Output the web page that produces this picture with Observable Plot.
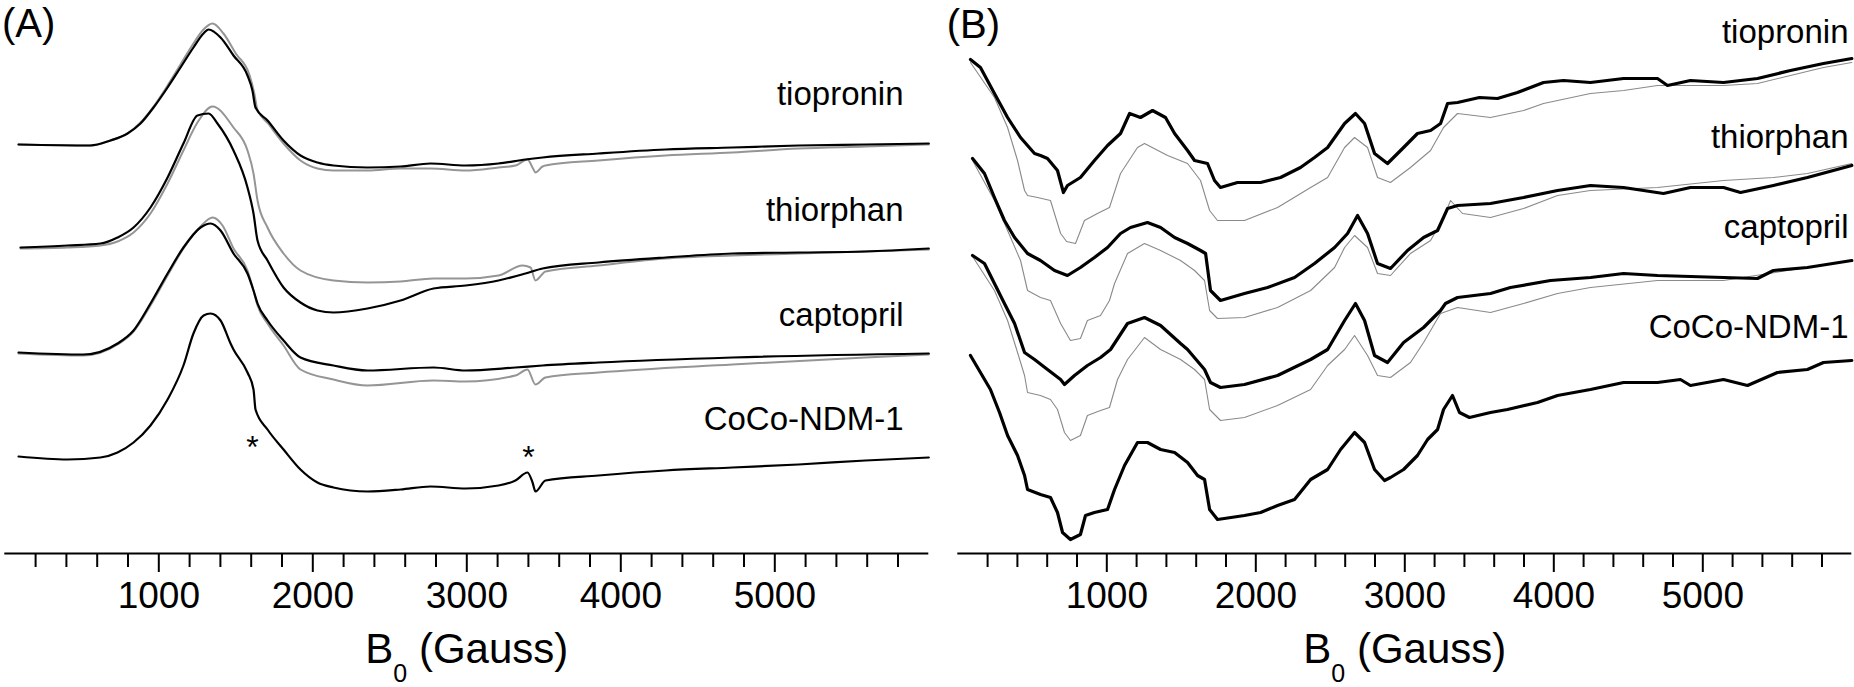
<!DOCTYPE html>
<html><head><meta charset="utf-8">
<script src="https://cdn.jsdelivr.net/npm/d3@7"></script>
<script src="https://cdn.jsdelivr.net/npm/@observablehq/plot@0.6"></script>
<style>
body{margin:0;background:#fff;}
#fig{display:flex;width:1854px;height:687px;overflow:hidden;}
svg{display:block;overflow:visible;}
</style></head><body><div id="fig"></div>
<script>
// ---------- shared ----------
const sampleNames = ["tiopronin", "thiorphan", "captopril", "CoCo-NDM-1"];
const fieldDomain = [0, 6000];            // B0 (Gauss)
const intensityDomain = [0, 553];         // stacked intensity (a.u.)
const majorTicks = [1000, 2000, 3000, 4000, 5000];
const tickLabels = ["1000", "2000", "3000", "4000", "5000"];
const minorTicks = [200,400,600,800,1200,1400,1600,1800,2200,2400,2600,2800,3200,3400,3600,3800,4200,4400,4600,4800,5200,5400,5600,5800];
const axisTitleParts = ["B", "0", " (Gauss)"];
const panelLetters = ["(A)", "(B)"];

// ---------- panel A : [field (G), stacked intensity] ----------
const A_tio_black = [[89,409],[556,408],[686,413],[797,420],[881,430],[966,446],[1057,466],[1141,486],[1225,506],[1290,520],[1323,524],[1401,516],[1485,498],[1576,478],[1608,463],[1628,446],[1706,433],[1810,413],[1920,398],[2030,391],[2134,388],[2355,386],[2570,387],[2764,390],[2992,388],[3206,390],[3381,394],[3492,396],[3855,400],[4290,404],[4725,406],[5154,408],[5589,409],[6000,410]];
const A_tio_gray = [[89,409],[556,408],[686,413],[797,420],[881,431],[966,447],[1057,468],[1141,489],[1225,510],[1290,524],[1349,530],[1420,520],[1500,500],[1590,478],[1620,460],[1640,444],[1710,430],[1810,410],[1920,393],[2030,385],[2134,383],[2355,383],[2570,385],[2764,385],[2992,383],[3206,386],[3316,388],[3394,394],[3430,385],[3446,381],[3492,387],[3511,388],[3855,393],[4290,398],[4725,401],[5154,405],[5589,407],[6000,409]];
const A_thi_black = [[102,306],[407,308],[621,310],[732,316],[836,326],[946,346],[1057,376],[1160,410],[1251,438],[1323,440],[1381,430],[1485,403],[1576,366],[1615,340],[1641,313],[1706,293],[1810,266],[1920,251],[2030,243],[2134,241],[2355,245],[2570,253],[2784,265],[2992,268],[3206,273],[3381,280],[3492,285],[3855,291],[4290,296],[4725,300],[5154,301],[5589,302],[6000,305]];
const A_thi_gray = [[102,305],[407,306],[621,308],[732,312],[836,321],[946,340],[1057,370],[1160,403],[1251,431],[1349,447],[1485,426],[1576,403],[1615,380],[1641,353],[1706,326],[1810,300],[1920,283],[2134,273],[2355,271],[2570,272],[2784,275],[2992,275],[3206,278],[3362,288],[3414,286],[3446,273],[3511,282],[3855,288],[4290,295],[4725,298],[5154,300],[6000,304]];
const A_cap_black = [[89,201],[511,199],[732,210],[836,223],[946,250],[1057,280],[1160,306],[1271,326],[1336,330],[1401,323],[1485,300],[1576,280],[1615,263],[1641,250],[1706,233],[1810,213],[1920,196],[2134,188],[2355,183],[2784,186],[2992,183],[3316,186],[3492,188],[3855,191],[4725,196],[6000,200]];
const A_cap_gray = [[89,200],[511,198],[732,209],[836,222],[946,248],[1057,278],[1160,305],[1271,327],[1349,336],[1414,328],[1485,305],[1576,283],[1615,263],[1641,248],[1706,230],[1810,208],[1920,184],[2134,174],[2355,168],[2784,173],[2992,172],[3316,178],[3394,184],[3446,169],[3511,176],[3855,181],[4725,189],[5589,196],[6000,199]];
const A_coco_black = [[89,97],[407,94],[621,96],[732,101],[836,111],[946,128],[1057,154],[1160,188],[1225,220],[1291,238],[1336,240],[1401,233],[1466,210],[1485,204],[1576,181],[1615,164],[1628,144],[1706,124],[1810,104],[1920,84],[2030,71],[2134,66],[2355,62],[2570,64],[2764,67],[2992,65],[3206,68],[3316,73],[3394,81],[3427,71],[3446,62],[3511,73],[3855,78],[4290,83],[4725,86],[5154,89],[5589,93],[6000,96]];
const A_labelX = [5836, 5836, 5836, 5836];
const A_labelY = [449, 333, 228, 124];
const A_asteriskX = [1608, 3401];
const A_asteriskY = [96, 86];

// ---------- panel B ----------
const B_tio_black = [[85,494],[152,486],[246,460],[334,436],[421,416],[515,400],[555,398],[602,395],[669,383],[709,361],[736,368],[823,376],[917,393],[1005,408],[1092,420],[1153,440],[1226,436],[1307,443],[1394,436],[1455,420],[1542,403],[1589,393],[1676,390],[1723,373],[1763,366],[1877,371],[2032,371],[2166,376],[2300,386],[2394,396],[2482,406],[2596,430],[2669,440],[2730,430],[2797,400],[2884,390],[2992,406],[3085,420],[3173,423],[3240,430],[3287,450],[3354,451],[3501,456],[3622,455],[3756,461],[3931,471],[4065,473],[4246,471],[4468,475],[4696,475],[4763,468],[4917,473],[5139,471],[5367,475],[5588,483],[5810,490],[6000,495]];
const B_tio_gray = [[85,491],[246,456],[334,426],[401,393],[448,363],[468,358],[535,356],[622,353],[690,320],[730,312],[790,310],[850,333],[937,340],[1018,346],[1092,380],[1206,406],[1253,410],[1408,398],[1542,390],[1629,373],[1690,343],[1743,333],[1924,333],[2146,346],[2368,366],[2482,376],[2596,406],[2663,416],[2750,406],[2817,376],[2904,371],[3038,386],[3173,403],[3260,426],[3354,440],[3575,436],[3797,443],[3931,450],[4246,460],[4468,463],[4696,468],[5139,468],[5367,470],[5588,478],[5810,486],[6000,491]];
const B_thi_black = [[99,395],[179,380],[246,356],[313,333],[381,316],[468,300],[555,293],[649,283],[736,278],[823,286],[917,296],[1005,306],[1092,320],[1159,326],[1273,331],[1361,326],[1455,316],[1542,310],[1629,303],[1663,300],[1696,263],[1763,253],[1924,260],[2079,266],[2260,276],[2394,290],[2529,306],[2616,320],[2683,338],[2750,320],[2817,290],[2904,285],[3018,303],[3126,316],[3220,323],[3287,345],[3354,348],[3575,350],[3797,356],[4025,363],[4246,368],[4468,366],[4736,360],[4917,366],[5139,366],[5253,361],[5474,368],[5702,376],[6000,388]];
const B_thi_gray = [[99,393],[246,353],[334,323],[421,293],[468,263],[555,256],[622,253],[690,230],[756,213],[823,215],[870,233],[958,238],[1018,253],[1052,270],[1139,300],[1253,310],[1361,303],[1495,293],[1589,283],[1656,273],[1690,243],[1743,235],[1924,236],[2146,246],[2368,263],[2529,286],[2596,306],[2663,318],[2750,306],[2817,280],[2904,278],[3038,300],[3173,313],[3260,336],[3307,353],[3387,340],[3575,336],[3797,345],[4025,358],[4246,363],[4696,366],[5139,373],[5474,376],[5702,380],[6000,390]];
const B_cap_black = [[99,298],[179,290],[246,270],[313,250],[381,230],[448,201],[515,194],[602,184],[690,174],[716,169],[783,178],[870,188],[958,196],[1025,204],[1139,230],[1253,236],[1361,228],[1495,210],[1542,204],[1656,184],[1696,171],[1763,166],[1924,169],[2146,178],[2368,194],[2482,204],[2596,233],[2669,250],[2730,233],[2797,198],[2884,191],[2992,211],[3126,226],[3240,243],[3273,250],[3354,256],[3575,260],[3709,266],[3978,273],[4246,276],[4468,280],[4696,278],[5139,276],[5367,275],[5474,283],[5702,286],[6000,293]];
const B_cap_gray = [[99,297],[246,263],[334,233],[401,201],[448,178],[468,161],[555,158],[622,154],[669,144],[716,121],[756,113],[823,118],[870,138],[958,143],[1018,146],[1072,174],[1139,194],[1253,216],[1361,204],[1495,194],[1589,184],[1656,174],[1690,144],[1763,133],[1924,136],[2146,148],[2368,164],[2482,188],[2596,204],[2663,218],[2750,198],[2817,178],[2904,176],[3038,191],[3126,211],[3240,240],[3354,246],[3575,241],[3797,250],[4025,260],[4246,266],[4696,273],[5139,273],[6000,293]];
const B_coco_black = [[85,198],[152,181],[219,164],[280,141],[334,118],[401,98],[448,78],[468,64],[555,59],[622,56],[669,41],[703,21],[756,14],[823,19],[857,38],[917,41],[1005,44],[1052,64],[1119,88],[1206,111],[1273,111],[1361,104],[1455,101],[1542,91],[1609,78],[1656,74],[1690,44],[1743,34],[1924,38],[2032,41],[2146,48],[2260,54],[2368,74],[2482,84],[2569,104],[2663,121],[2730,111],[2797,84],[2864,73],[2904,76],[2992,84],[3085,98],[3153,114],[3220,124],[3260,144],[3320,158],[3367,141],[3434,136],[3575,141],[3689,144],[3891,151],[4025,158],[4246,164],[4468,171],[4696,171],[4850,174],[4917,168],[5139,174],[5300,168],[5501,181],[5702,184],[5810,191],[6000,193]];
const B_labelX = [5978, 5978, 5978, 5978];
const B_labelY = [511, 406, 316, 216];

// ---------- build ----------
function rows(list) {
  return list.flatMap(([id, pts]) => pts.map(([g, v]) => ({id, g, v})));
}
const FONT = "'Liberation Sans', Arial, Helvetica, sans-serif";
const TITLE = axisTitleParts.join("");

function panel(o) {
  const svg = Plot.plot({
    width: o.width, height: 687,
    marginTop: 0, marginBottom: 134, marginLeft: o.marginLeft, marginRight: o.marginRight,
    x: {domain: fieldDomain},
    y: {domain: intensityDomain, axis: null},
    style: {fontFamily: FONT, fontSize: "33px", color: "#000", background: "transparent", overflow: "visible"},
    marks: [
      Plot.line(rows(o.gray), {x: "g", y: "v", z: "id", stroke: o.grayColor, strokeWidth: o.grayWidth, strokeLinejoin: "round", curve: o.curve}),
      Plot.line(rows(o.black), {x: "g", y: "v", z: "id", stroke: "#000", strokeWidth: o.blackWidth, strokeLinejoin: "round", curve: o.curve}),
      Plot.ruleY([intensityDomain[0]], {stroke: "#000", strokeWidth: 2.2}),
      Plot.axisX(minorTicks, {anchor: "bottom", tickSize: 14, strokeWidth: 2, tickFormat: () => "", label: null}),
      Plot.axisX(majorTicks, {anchor: "bottom", tickSize: 19, strokeWidth: 2, tickPadding: 9, fontSize: 37,
        tickFormat: d => tickLabels[majorTicks.indexOf(d)], label: null}),
      Plot.text(sampleNames, {x: (d, i) => o.labelX[i], y: (d, i) => o.labelY[i], text: d => d,
        textAnchor: "end", lineAnchor: "bottom", fontSize: 33}),
      ...(o.asteriskX ? [Plot.text(o.asteriskX, {x: d => d, y: (d, i) => o.asteriskY[i], text: () => "*",
        textAnchor: "middle", lineAnchor: "bottom", fontSize: 32})] : []),
      Plot.text([o.letter], {frameAnchor: "top-left", dx: o.letterDx, dy: o.letterDy, text: d => d,
        textAnchor: "start", lineAnchor: "bottom", fontSize: 40}),
      Plot.text([TITLE], {frameAnchor: "bottom", dy: 109, text: d => d,
        lineAnchor: "bottom", fontSize: 42})
    ]
  });
  // subscript for B0
  svg.querySelectorAll("text").forEach(t => {
    if (t.textContent === TITLE) {
      const s = d3.select(t);
      s.text(null);
      s.append("tspan").text(axisTitleParts[0]);
      s.append("tspan").attr("dy", 19).attr("font-size", 25).text(axisTitleParts[1]);
      s.append("tspan").attr("dy", -19).text(axisTitleParts[2]);
    }
  });
  return svg;
}

const fig = document.getElementById("fig");
fig.appendChild(panel({
  width: 930, marginLeft: 4.3, marginRight: 1.7, curve: "monotone-x",
  gray: [["tio", A_tio_gray], ["thi", A_thi_gray], ["cap", A_cap_gray]],
  black: [["tio", A_tio_black], ["thi", A_thi_black], ["cap", A_cap_black], ["coco", A_coco_black]],
  grayColor: "#959595", grayWidth: 2, blackWidth: 2.2,
  labelX: A_labelX, labelY: A_labelY,
  asteriskX: A_asteriskX, asteriskY: A_asteriskY,
  letter: panelLetters[0], letterDx: -2.8, letterDy: 36.5
}));
fig.appendChild(panel({
  width: 924, marginLeft: 27.3, marginRight: 2.7, curve: "linear",
  gray: [["tio", B_tio_gray], ["thi", B_thi_gray], ["cap", B_cap_gray]],
  black: [["tio", B_tio_black], ["thi", B_thi_black], ["cap", B_cap_black], ["coco", B_coco_black]],
  grayColor: "#8a8a8a", grayWidth: 1.1, blackWidth: 3.2,
  labelX: B_labelX, labelY: B_labelY,
  letter: panelLetters[1], letterDx: -11, letterDy: 37
}));
</script></body></html>
